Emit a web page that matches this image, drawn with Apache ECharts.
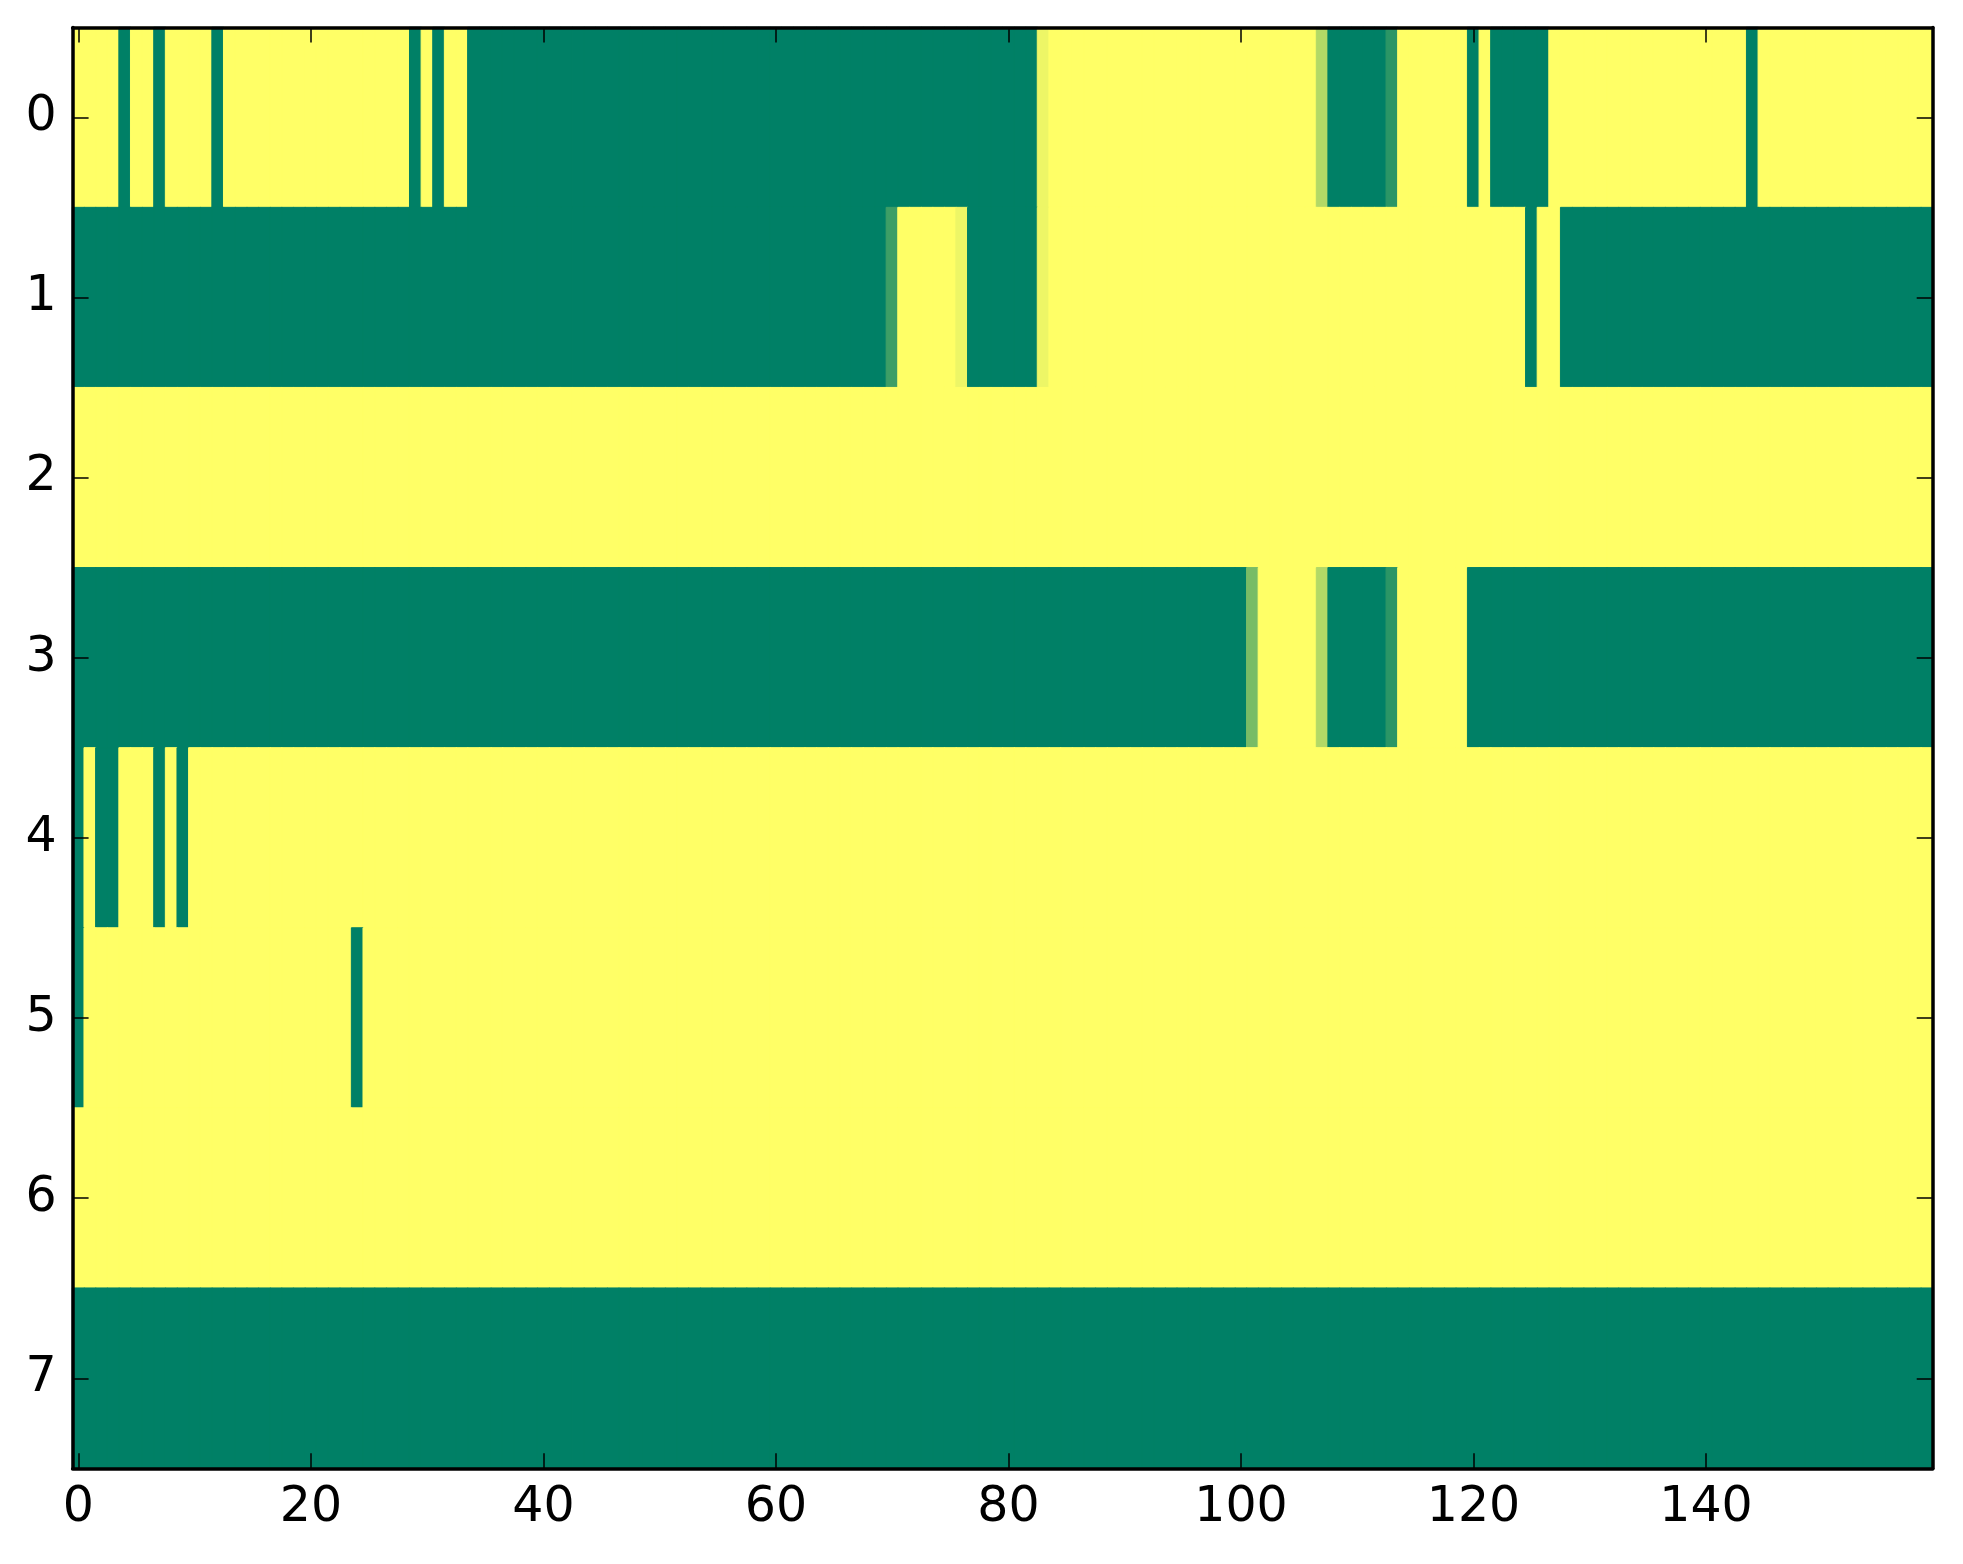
<!DOCTYPE html>
<html>
<head>
<meta charset="utf-8">
<script src="https://cdn.jsdelivr.net/npm/echarts@6/dist/echarts.min.js"></script>
<style>
html, body { margin: 0; padding: 0; background: #ffffff; }
#chart { width: 1963px; height: 1564px; }
</style>
</head>
<body>
<div id="chart"></div>
<script>
// Column categories (0..159) and row categories (0..7)
const columnLabels = Array.from({ length: 160 }, (_, i) => String(i));
const rowLabels = ['0', '1', '2', '3', '4', '5', '6', '7'];

// Cell values per row (0 = green end of the colormap, 1 = yellow end)
const row0 = [
  1,1,1,1,0,1,1,0,1,1,1,1,0,1,1,1,1,1,1,1,
  1,1,1,1,1,1,1,1,1,0,1,0,1,1,0,0,0,0,0,0,
  0,0,0,0,0,0,0,0,0,0,0,0,0,0,0,0,0,0,0,0,
  0,0,0,0,0,0,0,0,0,0,0,0,0,0,0,0,0,0,0,0,
  0,0,0,0.93,1,1,1,1,1,1,1,1,1,1,1,1,1,1,1,1,
  1,1,1,1,1,1,1,0.7,0,0,0,0,0,0.17,1,1,1,1,1,1,
  0,1,0,0,0,0,0,1,1,1,1,1,1,1,1,1,1,1,1,1,
  1,1,1,1,0,1,1,1,1,1,1,1,1,1,1,1,1,1,1,1
];
const row1 = [
  0,0,0,0,0,0,0,0,0,0,0,0,0,0,0,0,0,0,0,0,
  0,0,0,0,0,0,0,0,0,0,0,0,0,0,0,0,0,0,0,0,
  0,0,0,0,0,0,0,0,0,0,0,0,0,0,0,0,0,0,0,0,
  0,0,0,0,0,0,0,0,0,0,0.24,1,1,1,1,1,0.93,0,0,0,
  0,0,0,0.93,1,1,1,1,1,1,1,1,1,1,1,1,1,1,1,1,
  1,1,1,1,1,1,1,1,1,1,1,1,1,1,1,1,1,1,1,1,
  1,1,1,1,1,0,1,1,0,0,0,0,0,0,0,0,0,0,0,0,
  0,0,0,0,0,0,0,0,0,0,0,0,0,0,0,0,0,0,0,0
];
const row2 = [
  1,1,1,1,1,1,1,1,1,1,1,1,1,1,1,1,1,1,1,1,
  1,1,1,1,1,1,1,1,1,1,1,1,1,1,1,1,1,1,1,1,
  1,1,1,1,1,1,1,1,1,1,1,1,1,1,1,1,1,1,1,1,
  1,1,1,1,1,1,1,1,1,1,1,1,1,1,1,1,1,1,1,1,
  1,1,1,1,1,1,1,1,1,1,1,1,1,1,1,1,1,1,1,1,
  1,1,1,1,1,1,1,1,1,1,1,1,1,1,1,1,1,1,1,1,
  1,1,1,1,1,1,1,1,1,1,1,1,1,1,1,1,1,1,1,1,
  1,1,1,1,1,1,1,1,1,1,1,1,1,1,1,1,1,1,1,1
];
const row3 = [
  0,0,0,0,0,0,0,0,0,0,0,0,0,0,0,0,0,0,0,0,
  0,0,0,0,0,0,0,0,0,0,0,0,0,0,0,0,0,0,0,0,
  0,0,0,0,0,0,0,0,0,0,0,0,0,0,0,0,0,0,0,0,
  0,0,0,0,0,0,0,0,0,0,0,0,0,0,0,0,0,0,0,0,
  0,0,0,0,0,0,0,0,0,0,0,0,0,0,0,0,0,0,0,0,
  0,0.47,1,1,1,1,1,0.7,0,0,0,0,0,0.17,1,1,1,1,1,1,
  0,0,0,0,0,0,0,0,0,0,0,0,0,0,0,0,0,0,0,0,
  0,0,0,0,0,0,0,0,0,0,0,0,0,0,0,0,0,0,0,0
];
const row4 = [
  0,1,0,0,1,1,1,0,1,0,1,1,1,1,1,1,1,1,1,1,
  1,1,1,1,1,1,1,1,1,1,1,1,1,1,1,1,1,1,1,1,
  1,1,1,1,1,1,1,1,1,1,1,1,1,1,1,1,1,1,1,1,
  1,1,1,1,1,1,1,1,1,1,1,1,1,1,1,1,1,1,1,1,
  1,1,1,1,1,1,1,1,1,1,1,1,1,1,1,1,1,1,1,1,
  1,1,1,1,1,1,1,1,1,1,1,1,1,1,1,1,1,1,1,1,
  1,1,1,1,1,1,1,1,1,1,1,1,1,1,1,1,1,1,1,1,
  1,1,1,1,1,1,1,1,1,1,1,1,1,1,1,1,1,1,1,1
];
const row5 = [
  0,1,1,1,1,1,1,1,1,1,1,1,1,1,1,1,1,1,1,1,
  1,1,1,1,0,1,1,1,1,1,1,1,1,1,1,1,1,1,1,1,
  1,1,1,1,1,1,1,1,1,1,1,1,1,1,1,1,1,1,1,1,
  1,1,1,1,1,1,1,1,1,1,1,1,1,1,1,1,1,1,1,1,
  1,1,1,1,1,1,1,1,1,1,1,1,1,1,1,1,1,1,1,1,
  1,1,1,1,1,1,1,1,1,1,1,1,1,1,1,1,1,1,1,1,
  1,1,1,1,1,1,1,1,1,1,1,1,1,1,1,1,1,1,1,1,
  1,1,1,1,1,1,1,1,1,1,1,1,1,1,1,1,1,1,1,1
];
const row6 = [
  1,1,1,1,1,1,1,1,1,1,1,1,1,1,1,1,1,1,1,1,
  1,1,1,1,1,1,1,1,1,1,1,1,1,1,1,1,1,1,1,1,
  1,1,1,1,1,1,1,1,1,1,1,1,1,1,1,1,1,1,1,1,
  1,1,1,1,1,1,1,1,1,1,1,1,1,1,1,1,1,1,1,1,
  1,1,1,1,1,1,1,1,1,1,1,1,1,1,1,1,1,1,1,1,
  1,1,1,1,1,1,1,1,1,1,1,1,1,1,1,1,1,1,1,1,
  1,1,1,1,1,1,1,1,1,1,1,1,1,1,1,1,1,1,1,1,
  1,1,1,1,1,1,1,1,1,1,1,1,1,1,1,1,1,1,1,1
];
const row7 = [
  0,0,0,0,0,0,0,0,0,0,0,0,0,0,0,0,0,0,0,0,
  0,0,0,0,0,0,0,0,0,0,0,0,0,0,0,0,0,0,0,0,
  0,0,0,0,0,0,0,0,0,0,0,0,0,0,0,0,0,0,0,0,
  0,0,0,0,0,0,0,0,0,0,0,0,0,0,0,0,0,0,0,0,
  0,0,0,0,0,0,0,0,0,0,0,0,0,0,0,0,0,0,0,0,
  0,0,0,0,0,0,0,0,0,0,0,0,0,0,0,0,0,0,0,0,
  0,0,0,0,0,0,0,0,0,0,0,0,0,0,0,0,0,0,0,0,
  0,0,0,0,0,0,0,0,0,0,0,0,0,0,0,0,0,0,0,0
];
const rows = [row0, row1, row2, row3, row4, row5, row6, row7];

// "summer" colormap endpoints
const COLOR_LOW = [0, 128, 102];
const COLOR_HIGH = [255, 255, 102];
function summer(v) {
  const c = COLOR_LOW.map((lo, i) => Math.round(lo + (COLOR_HIGH[i] - lo) * v));
  return 'rgb(' + c.join(',') + ')';
}

const cells = [];
rows.forEach((r, y) => r.forEach((v, x) => cells.push({
  value: [x, y, v],
  itemStyle: { borderColor: summer(v), borderWidth: 1 }
})));

const FONT = 'DejaVu Sans';
const axisLineStyle = { color: '#000000', width: 3.5 };

function xAxisDef(position, showLabels) {
  return {
    type: 'category',
    data: columnLabels,
    position: position,
    boundaryGap: true,
    z: 10,
    axisLine: { show: true, onZero: false, lineStyle: axisLineStyle },
    axisTick: { show: true, inside: true, length: 15, interval: 19, alignWithLabel: true,
                lineStyle: { color: '#000000', width: 1.5 } },
    axisLabel: { show: showLabels, interval: 19, fontSize: 49, fontFamily: FONT, color: '#000000', margin: 15 },
    splitLine: { show: false }
  };
}
function yAxisDef(position, showLabels) {
  return {
    type: 'category',
    data: rowLabels,
    inverse: true,
    position: position,
    boundaryGap: true,
    z: 10,
    axisLine: { show: true, onZero: false, lineStyle: axisLineStyle },
    axisTick: { show: true, inside: true, length: 16, alignWithLabel: true,
                lineStyle: { color: '#000000', width: 1.5 } },
    axisLabel: { show: showLabels, fontSize: 49, fontFamily: FONT, color: '#000000', margin: 16 },
    splitLine: { show: false }
  };
}

const chart = echarts.init(document.getElementById('chart'), null, { renderer: 'canvas' });
chart.setOption({
  backgroundColor: '#ffffff',
  animation: false,
  grid: { left: 72.6, right: 30.3, top: 27.5, bottom: 95.7, containLabel: false },
  xAxis: [xAxisDef('bottom', true), xAxisDef('top', false)],
  yAxis: [yAxisDef('left', true), yAxisDef('right', false)],
  visualMap: {
    show: false,
    type: 'continuous',
    min: 0,
    max: 1,
    dimension: 2,
    inRange: { color: ['#008066', '#ffff66'] }
  },
  series: [{
    type: 'heatmap',
    xAxisIndex: 0,
    yAxisIndex: 0,
    data: cells,
    progressive: 0,
    itemStyle: { borderWidth: 0 },
    emphasis: { disabled: true }
  }]
});
</script>
</body>
</html>
